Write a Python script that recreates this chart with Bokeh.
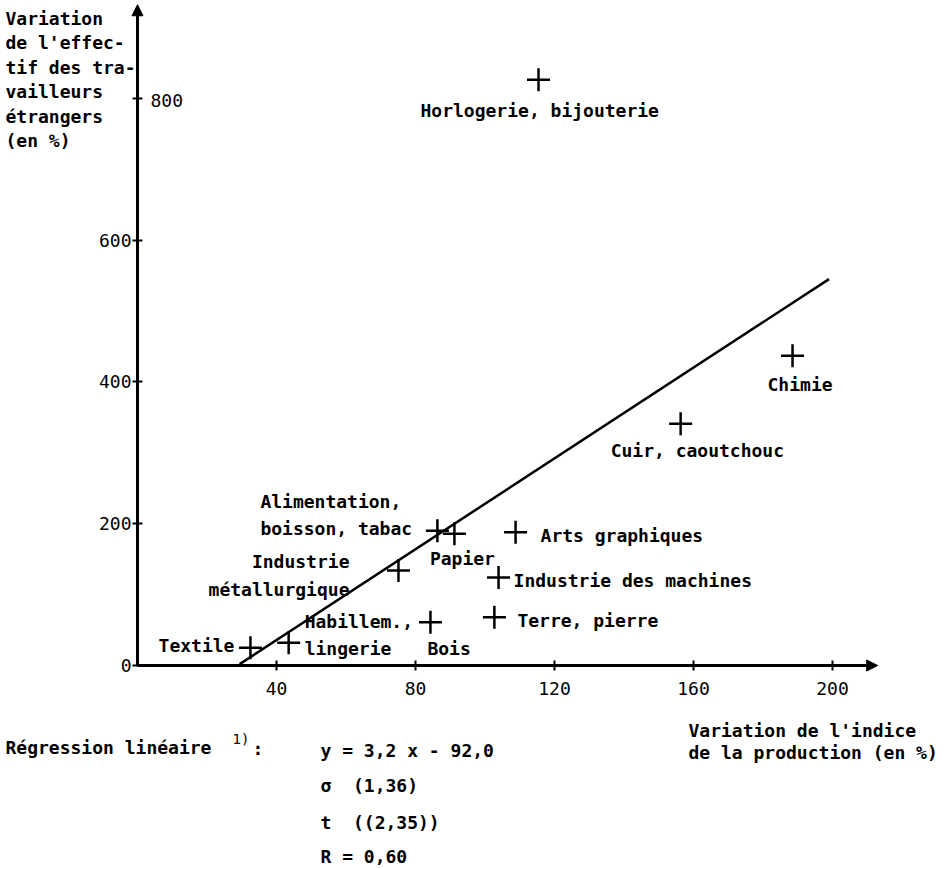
from bokeh.plotting import figure
from bokeh.models import (Range1d, LinearAxis, FixedTicker, Arrow, NormalHead,
                          Label, ColumnDataSource)
from bokeh.embed import file_html
from bokeh.resources import INLINE
from bokeh.core.properties import value

# ---------------- data ----------------
sectors = ["Textile", "Habillem.,\nlingerie", "Industrie\nmétallurgique",
           "Alimentation,\nboisson, tabac", "Papier", "Arts graphiques",
           "Industrie des machines", "Bois", "Terre, pierre",
           "Cuir, caoutchouc", "Chimie", "Horlogerie, bijouterie"]
prod_var = [32.5, 43.5, 75.1, 86.3, 91.2, 108.8, 103.9, 84.3, 102.7, 156.3, 188.5, 115.4]
workers_var = [25, 32, 134, 190, 186, 188, 124, 61, 68, 341, 437, 826]
x_ticks = [40, 80, 120, 160, 200]
y_ticks = [0, 200, 400, 600, 800]
reg_x = [29.4, 199.0]
reg_y = [2, 545]

NB = "\u00a0"
y_title = ["Variation", "de l'effec-", "tif des tra-", "vailleurs", "étrangers", "(en %)"]
x_title = ["Variation de l'indice", "de la production (en %)"]
reg_lines = ["y = 3,2 x - 92,0", "σ" + NB * 2 + "(1,36)", "t" + NB * 2 + "((2,35))", "R = 0,60"]

# ---------------- label placement (screen px) ----------------
lab_dx = [-16, 16, -49, -177, 8, 25, 15, -3, 23, -70, -25, -118]
lab_dy = [-2, -8, 5, -16, 25, 3, 3, 26, 3, 27, 29, 31]
lab_align = ["right", "left", "right", "left", "center", "left", "left",
             "left", "left", "left", "left", "left"]

FONT_NAME = "DejaVu Sans Mono"
FS = "18px"
STYLE = "bold"
W, H = 940, 866
PXX = 3.475   # px per x unit
PXY = 0.709   # px per y unit
X0 = 137      # canvas px of x = 0
Y0 = 665      # canvas px of y = 0 (from top)

x_start = -X0 / PXX
y_end = Y0 / PXY
p = figure(width=W, height=H, output_backend="svg", toolbar_location=None,
           x_range=Range1d(x_start, x_start + W / PXX),
           y_range=Range1d(y_end - H / PXY, y_end),
           x_axis_type=None, y_axis_type=None,
           min_border_left=0, min_border_right=0,
           min_border_top=0, min_border_bottom=0)
p.outline_line_color = None
p.background_fill_color = "white"
p.border_fill_color = "white"

xaxis = LinearAxis(ticker=FixedTicker(ticks=x_ticks), fixed_location=0)
yaxis = LinearAxis(ticker=FixedTicker(ticks=y_ticks), fixed_location=0,
                   major_label_overrides={800: ""})
for ax in (xaxis, yaxis):
    ax.axis_line_color = None
    ax.major_tick_line_width = 2
    ax.major_tick_line_color = "black"
    ax.minor_tick_line_color = None
    ax.major_tick_in = 5
    ax.major_tick_out = 5
    ax.major_label_text_font = FONT_NAME
    ax.major_label_text_font_size = FS
    ax.major_label_text_color = "black"
xaxis.major_label_standoff = 11
yaxis.major_label_standoff = 1
p.add_layout(xaxis, "below")
p.add_layout(yaxis, "left")

# axis lines with arrow heads
p.add_layout(Arrow(end=NormalHead(size=11, fill_color="black", line_color="black"),
                   x_start=0, y_start=0, x_end=213, y_end=0,
                   line_width=3, line_color="black"))
p.add_layout(Arrow(end=NormalHead(size=11, fill_color="black", line_color="black"),
                   x_start=0, y_start=0, x_end=0, y_end=y_end - 6,
                   line_width=3, line_color="black"))

# regression line
p.line(reg_x, reg_y, line_width=2.5, line_color="black")

# points
src = ColumnDataSource(dict(x=prod_var, y=workers_var, label=sectors,
                            dx=lab_dx, dy=lab_dy, align=lab_align))
p.scatter("x", "y", source=src, marker="cross", size=23, line_width=2.5,
          line_color="black")
p.text(x="x", y="y", text="label", source=src, x_offset="dx", y_offset="dy",
       text_align="align", text_baseline="middle", text_font=value(FONT_NAME),
       text_font_size=FS, text_font_style=STYLE, text_line_height=1.3,
       text_color="black")


def sx(px):
    return (px - X0) / PXX


def sy(py):
    return (Y0 - py) / PXY


def lab(px, py, t, size=FS, align="left", style=STYLE):
    p.add_layout(Label(x=sx(px), y=sy(py), text=t, text_font=FONT_NAME,
                       text_font_size=size, text_font_style=style,
                       text_align=align, text_baseline="middle",
                       text_color="black"))


for i, t in enumerate(y_title):
    lab(5, 18 + i * 24.4, t)
lab(150, 100, "800", style="normal")
lab(5, 747, "Régression linéaire")
lab(232, 738, "1)", size="14px", style="normal")
lab(252, 748, ":")
for t, py in zip(reg_lines, [750, 785, 822, 856]):
    lab(320, py, t)
for i, t in enumerate(x_title):
    lab(688, 730 + i * 22, t)

open("out.html", "w").write(file_html(p, INLINE))
